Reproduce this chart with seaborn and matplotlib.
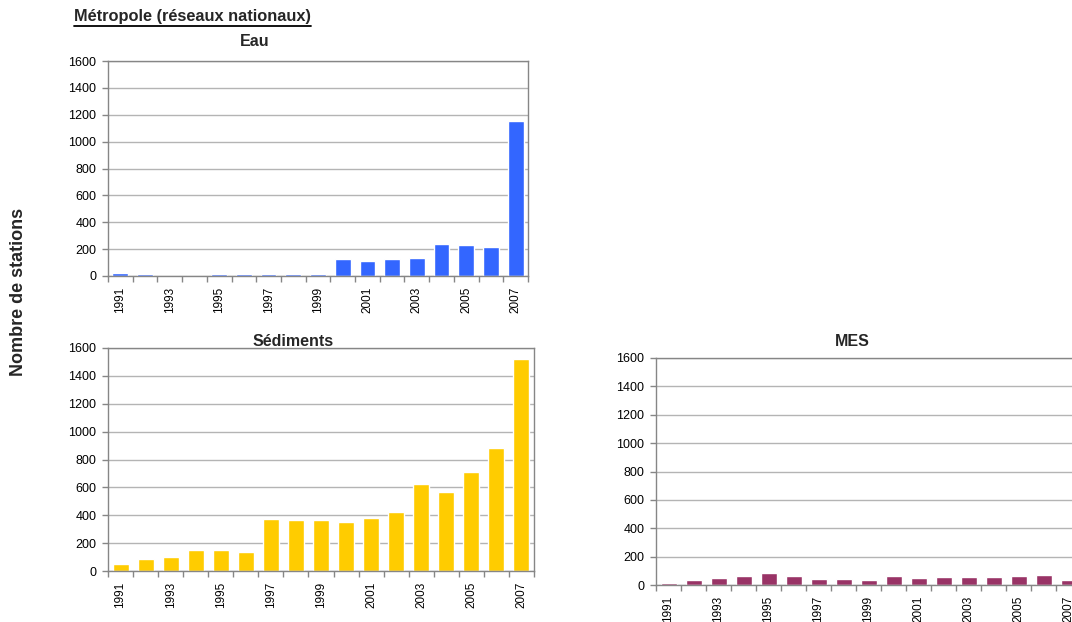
import matplotlib
matplotlib.use("Agg")
import matplotlib.pyplot as plt
from matplotlib.lines import Line2D
from matplotlib.ticker import FixedLocator
import seaborn as sns
import pandas as pd

# Number of monitoring stations per year, by medium
years = [str(y) for y in range(1991, 2008)]
eau = [22, 15, 0, 0, 15, 15, 15, 15, 15, 127, 112, 127, 134, 238, 231, 216, 1155]
sediments = [52, 88, 103, 148, 153, 138, 375, 367, 367, 353, 382, 425, 625, 568, 711, 883, 1520]
mes = [16, 38, 52, 66, 87, 66, 45, 45, 38, 66, 52, 59, 59, 59, 66, 73, 38]

y_ticks = [0, 200, 400, 600, 800, 1000, 1200, 1400, 1600]

sns.set_style("white")
plt.rcParams["font.family"] = ["Liberation Sans", "DejaVu Sans"]

W, H = 1072, 622
fig = plt.figure(figsize=(W / 100, H / 100), dpi=100)


def box(l, t, r, b):
    return [l / W, 1 - b / H, (r - l) / W, (b - t) / H]


def fx(x):
    return x / W


def fy(y):
    return 1 - y / H


EDGE = "#868686"
GRID = "#b4b4b4"


def panel(rect, values, color, title, title_x, title_y):
    ax = fig.add_axes(rect)
    df = pd.DataFrame({"annee": years, "stations": values})
    sns.barplot(data=df, x="annee", y="stations", order=years, color=color,
                saturation=1, width=0.64, ax=ax)
    ax.set_xlim(-0.5, len(years) - 0.5)
    ax.set_ylim(0, 1600)
    ax.set_yticks(y_ticks)
    ax.set_yticklabels([str(v) for v in y_ticks])
    ax.set_xticks(range(len(years)))
    ax.set_xticklabels([y if i % 2 == 0 else "" for i, y in enumerate(years)],
                       rotation=90, va="top", ha="center")
    ax.xaxis.set_minor_locator(FixedLocator([i - 0.5 for i in range(len(years) + 1)]))
    ax.set_xlabel("")
    ax.set_ylabel("")
    ax.yaxis.grid(True, color=GRID, lw=1.0)
    ax.xaxis.grid(False)
    ax.set_axisbelow(True)
    for s in ax.spines.values():
        s.set_visible(True)
        s.set_color(EDGE)
        s.set_linewidth(1.0)
    ax.tick_params(axis="y", which="major", left=True, length=4, width=1,
                   color=EDGE, labelsize=9, pad=4.5, labelcolor="black")
    ax.tick_params(axis="x", which="major", bottom=True, length=0,
                   labelsize=8.5, pad=7.5, labelcolor="black")
    ax.tick_params(axis="x", which="minor", bottom=True, length=4, width=1,
                   color=EDGE)
    fig.text(fx(title_x), fy(title_y), title, ha="center", va="baseline",
             fontsize=11.5, fontweight="bold")
    return ax


panel(box(108, 61, 528, 276), eau, "#3366FF", "Eau", 255, 46.5)
panel(box(108, 348, 534, 571), sediments, "#FFCC00", "Sédiments", 293, 346.5)
panel(box(656, 358, 1081, 585), mes, "#993366", "MES", 852, 346.5)

# Heading with underline
head = fig.text(fx(74), fy(21.5), "Métropole (réseaux nationaux)", ha="left",
                va="baseline", fontsize=11.8, fontweight="bold")
fig.canvas.draw()
bb = head.get_window_extent(renderer=fig.canvas.get_renderer())
fig.add_artist(Line2D([bb.x0 / W, bb.x1 / W], [fy(25.5), fy(25.5)],
                      transform=fig.transFigure, color="black", lw=1.3))

fig.text(fx(19), fy(292), "Nombre de stations", rotation=90, ha="center",
         va="center", fontsize=13, fontweight="bold")

fig.savefig("out.png", dpi=100)
